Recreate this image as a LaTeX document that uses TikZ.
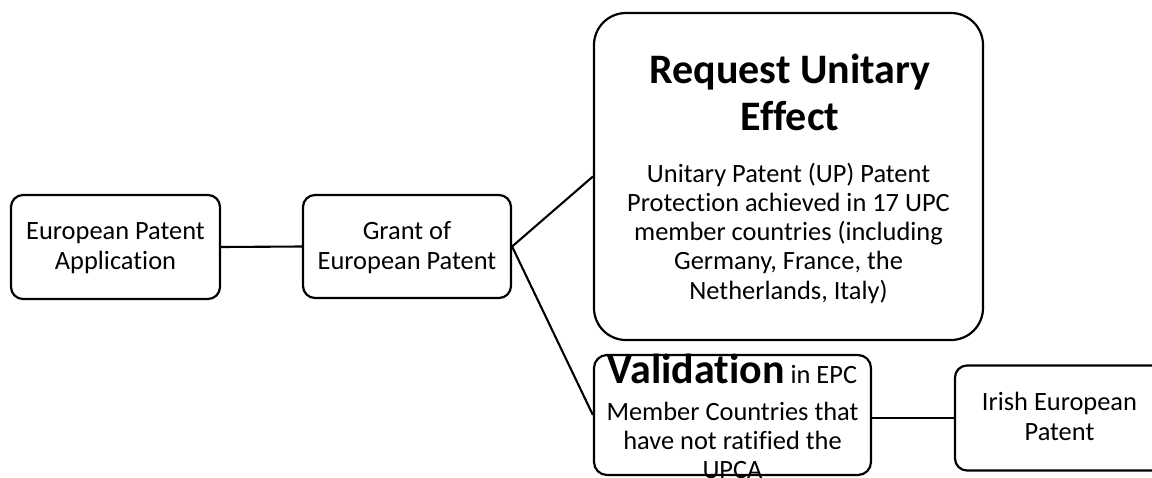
\documentclass[tikz,border=0pt]{standalone}
\usepackage{fontspec}
\setmainfont{Carlito}[Ligatures=NoCommon]
\begin{document}
\begin{tikzpicture}[x=1pt,y=-1pt,
  box/.style={draw=black,line width=2.2pt,fill=white,rounded corners=12pt,inner sep=0pt},
  conn/.style={draw=black,line width=2.1pt},
  txt/.style={align=center,inner sep=0pt,font=\fontsize{26.4}{29.5}\selectfont},
  ttl/.style={align=center,inner sep=0pt,font=\fontsize{42}{47}\selectfont\bfseries}]
\useasboundingbox (0,0) rectangle (1152,477);
\clip (0,0) rectangle (1152,477);
\fill[white] (0,0) rectangle (1152,477);
% boxes
\node[box,minimum width=209pt,minimum height=104pt] (app) at (115.5,247) {};
\node[box,minimum width=208pt,minimum height=103pt] (grant) at (407,246.5) {};
\node[box,rounded corners=32pt,minimum width=389pt,minimum height=327pt] (ue) at (788.5,176.5) {};
\node[box,rounded corners=13pt,minimum width=277pt,minimum height=120pt] (val) at (732.5,415) {};
\node[box,minimum width=209pt,minimum height=105pt] (irish) at (1059.5,418) {};
% connectors
\draw[conn] (app.east) -- (grant.west);
\draw[conn] (grant.east) -- (ue.west);
\draw[conn] (grant.east) -- (val.west);
\draw[conn] (irish.west) -- (irish.west -| val.east);
% texts (base anchor = baseline of the last line)
\node[txt,anchor=base] (appt) at (115.5,269) {European Patent\\Application};
\node[txt,anchor=base] (grantt) at (407,269) {Grant of\\European Patent};
\node[ttl,anchor=base] (uet) at (790,130) {Request Unitary\\Effect};
\node[txt,anchor=base,font=\fontsize{26.4}{29.25}\selectfont] (ueb) at (788.5,299) {Unitary Patent (UP) Patent\\Protection achieved in 17 UPC\\member countries (including\\Germany, France, the\\Netherlands, Italy)};
\node[txt,anchor=base] (valt) at (732.5,383) {{\fontsize{42}{47}\selectfont\bfseries Validation} in EPC};
\node[txt,anchor=base,font=\fontsize{26.4}{29}\selectfont] (valb) at (732.5,478) {Member Countries that\\have not ratified the\\UPCA};
\node[txt,anchor=base,font=\fontsize{26.4}{30}\selectfont] (irisht) at (1059.5,440) {Irish European\\Patent};
\end{tikzpicture}
\end{document}
